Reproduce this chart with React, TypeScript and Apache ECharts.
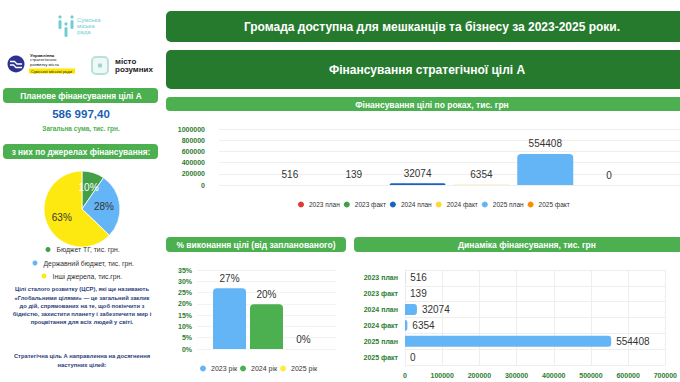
import React, { useEffect, useRef } from "react";
import * as echarts from "echarts";

// ---------- data ----------
const yearCategories = ["2023 план", "2023 факт", "2024 план", "2024 факт", "2025 план", "2025 факт"];
const yearValues = [516, 139, 32074, 6354, 554408, 0];

const percentYears = ["2023 рік", "2024 рік", "2025 рік"];
const percentValues = [26.9, 19.8, 0];

const sourceNames = ["Бюджет ТГ, тис. грн.", "Державний бюджет, тис. грн.", "Інші джерела, тис.грн."];
const sourceValues = [56351.7, 162011.3, 368634.4];

const plannedTotalText = "586 997,40";

const paragraphLines = [
  "Цілі сталого розвитку (ЦСР), які ще називають",
  "«Глобальними цілями» — це загальний заклик",
  "до дій, спрямованих на те, щоб покінчити з",
  "бідністю, захистити планету і забезпечити мир і",
  "процвітання для всіх людей у світі.",
];
const goalLines = ["Стратегічна ціль А направленна на досягнення", "наступних цілей:"];

// ---------- styles ----------
const FONT = "'Liberation Sans', Arial, Helvetica, sans-serif";
const yearColors = ["#e53935", "#43a047", "#1565c0", "#fdd835", "#64b5f6", "#fb8c00"];
const percentColors = ["#64b5f6", "#4caf50", "#ffeb3b"];
const sourceColors = ["#43a047", "#64b5f6", "#fde910"];
const DARK_GREEN = "#267a2e";
const GREEN = "#4caf50";
const AXIS_GREEN = "#2e7d32";
const GRID_LINE = "#eeeeee";

function txt(x: number, y: number, text: string, font: string, fill: string, align = "center") {
  return {
    type: "text",
    x,
    y,
    silent: true,
    style: { text, font, fill, align, verticalAlign: "middle", textAlign: align, textVerticalAlign: "middle" },
  };
}

export default function App() {
  const ref = useRef<HTMLDivElement>(null);

  useEffect(() => {
    if (!ref.current) return;
    const chart = echarts.init(ref.current, null, { renderer: "svg" });
    const sourceTotal = sourceValues.reduce((a, b) => a + b, 0);

    const graphic: any[] = [
      // top headers
      { type: "rect", shape: { x: 166, y: 11, width: 530, height: 31, r: 5 }, style: { fill: DARK_GREEN } },
      txt(432, 27, "Громада доступна для мешканців та бізнесу за 2023-2025 роки.", `bold 12px ${FONT}`, "#fff"),
      { type: "rect", shape: { x: 166, y: 50, width: 530, height: 39, r: 5 }, style: { fill: DARK_GREEN } },
      txt(427, 70, "Фінансування стратегічної цілі А", `bold 12px ${FONT}`, "#fff"),
      { type: "rect", shape: { x: 166, y: 97, width: 530, height: 14, r: 4 }, style: { fill: GREEN } },
      txt(432, 104.5, "Фінансування цілі по роках, тис. грн", `bold 8.5px ${FONT}`, "#fff"),
      { type: "rect", shape: { x: 166, y: 237, width: 180, height: 15, r: 4 }, style: { fill: GREEN } },
      txt(256, 245, "% виконання цілі (від запланованого)", `bold 8.5px ${FONT}`, "#fff"),
      { type: "rect", shape: { x: 354, y: 237, width: 340, height: 15, r: 4 }, style: { fill: GREEN } },
      txt(527, 245, "Динаміка фінансування, тис. грн", `bold 8.5px ${FONT}`, "#fff"),

      // left panel
      { type: "rect", shape: { x: 3, y: 88, width: 155, height: 15, r: 4 }, style: { fill: GREEN } },
      txt(81, 96, "Планове фінансування цілі А", `bold 8.3px ${FONT}`, "#fff"),
      txt(81, 114, plannedTotalText, `bold 11.5px ${FONT}`, "#1a5fb4"),
      txt(81, 128, "Загальна сума, тис. грн.", `bold 6.5px ${FONT}`, GREEN),
      { type: "rect", shape: { x: 3, y: 144, width: 155, height: 15, r: 4 }, style: { fill: GREEN } },
      txt(81, 152, "з них по джерелах фінансування:", `bold 8.3px ${FONT}`, "#fff"),

      // Sumy council logo
      { type: "circle", shape: { cx: 60, cy: 17, r: 1.6 }, style: { fill: "#6fcdd6" } },
      { type: "rect", shape: { x: 58.5, y: 20, width: 3, height: 9, r: 1.5 }, style: { fill: "#6fcdd6" } },
      { type: "circle", shape: { cx: 66, cy: 24, r: 1.6 }, style: { fill: "#6fcdd6" } },
      { type: "rect", shape: { x: 64.5, y: 27, width: 3, height: 10, r: 1.5 }, style: { fill: "#6fcdd6" } },
      { type: "circle", shape: { cx: 72, cy: 17, r: 1.6 }, style: { fill: "#6fcdd6" } },
      { type: "rect", shape: { x: 70.5, y: 20, width: 3, height: 9, r: 1.5 }, style: { fill: "#6fcdd6" } },
      txt(77, 20, "Сумська", `6px ${FONT}`, "#6fcdd6", "left"),
      txt(77, 26, "міська", `6px ${FONT}`, "#6fcdd6", "left"),
      txt(77, 32, "рада", `6px ${FONT}`, "#6fcdd6", "left"),

      // Upravlinnia logo
      { type: "circle", shape: { cx: 16, cy: 64, r: 8.5 }, style: { fill: "#2e3192" } },
      { type: "polyline", shape: { points: [[10, 61.5], [14.5, 61.5], [17, 64], [22, 64]] }, style: { stroke: "#fff", lineWidth: 1.3, fill: null } },
      { type: "polyline", shape: { points: [[10, 65], [13.5, 65], [16, 67.5], [22, 67.5]] }, style: { stroke: "#fff", lineWidth: 1.3, fill: null } },
      txt(30, 55, "Управління", `bold 4.3px ${FONT}`, "#222", "left"),
      txt(30, 59.5, "стратегічного", `4.3px ${FONT}`, "#222", "left"),
      txt(30, 64, "розвитку міста", `4.3px ${FONT}`, "#222", "left"),
      { type: "rect", shape: { x: 29, y: 68.5, width: 46, height: 5 }, style: { fill: "#ffe600" } },
      txt(31, 71, "Сумської міської ради", `4px ${FONT}`, "#222", "left"),

      // misto rozumnykh logo
      { type: "rect", shape: { x: 92, y: 57, width: 16, height: 17, r: 4 }, style: { fill: "#eef8f6", stroke: "#b9e0da", lineWidth: 2 } },
      { type: "rect", shape: { x: 98, y: 63.5, width: 4, height: 4, r: 1 }, style: { fill: "#9fd3cb" } },
      txt(115, 61.5, "місто", `bold 8px ${FONT}`, "#222", "left"),
      txt(115, 69.5, "розумних", `bold 8px ${FONT}`, "#222", "left"),
    ];

    const paraY = [289, 297.5, 306, 314, 322];
    paragraphLines.forEach((l, i) => graphic.push(txt(82, paraY[i], l, `bold 5.8px ${FONT}`, "#2c3e7a")));
    const goalY = [356, 364.5];
    goalLines.forEach((l, i) => graphic.push(txt(82, goalY[i], l, `bold 5.8px ${FONT}`, "#2c3e7a")));

    const plain = (v: number) => String(v);
    const axisLabelStyle = { color: AXIS_GREEN, fontSize: 7, fontWeight: "bold", fontFamily: FONT };

    const yearSeries = yearCategories.map((name, i) => ({
      type: "bar",
      name,
      xAxisIndex: 0,
      yAxisIndex: 0,
      data: [yearValues[i]],
      barWidth: 56,
      barGap: "14%",
      itemStyle: { color: yearColors[i], borderRadius: [4, 4, 0, 0] },
      label: { show: true, position: "top", distance: 5, fontSize: 10, color: "#333", fontFamily: FONT },
    }));

    const percentSeries = percentYears.map((name, i) => ({
      type: "bar",
      name,
      xAxisIndex: 1,
      yAxisIndex: 1,
      data: [percentValues[i]],
      barWidth: 33,
      barGap: "12%",
      itemStyle: { color: percentColors[i], borderRadius: [4, 4, 0, 0] },
      label: {
        show: true,
        position: "top",
        distance: 5,
        fontSize: 10,
        color: "#333",
        fontFamily: FONT,
        formatter: (p: any) => Math.round(p.value) + "%",
      },
    }));

    const legendText = { color: "#333", fontFamily: FONT };

    const option: any = {
      animation: false,
      backgroundColor: "#fff",
      textStyle: { fontFamily: FONT },
      grid: [
        { left: 219, right: 0, top: 129, bottom: 197 },
        { left: 197, right: 344, top: 270, bottom: 33 },
        { left: 405, right: 6, top: 270, bottom: 17 },
      ],
      xAxis: [
        { gridIndex: 0, type: "category", data: [""], axisLine: { show: false }, axisTick: { show: false }, axisLabel: { show: false } },
        { gridIndex: 1, type: "category", data: [""], axisLine: { show: false }, axisTick: { show: false }, axisLabel: { show: false } },
        {
          gridIndex: 2,
          type: "value",
          min: 0,
          max: 700000,
          interval: 100000,
          axisLine: { show: false },
          axisTick: { show: false },
          axisLabel: { ...axisLabelStyle, margin: 7, formatter: plain },
          splitLine: { show: true, lineStyle: { color: GRID_LINE } },
        },
      ],
      yAxis: [
        {
          gridIndex: 0,
          type: "value",
          min: 0,
          max: 1000000,
          interval: 200000,
          axisLine: { show: false },
          axisTick: { show: false },
          axisLabel: { ...axisLabelStyle, margin: 14, formatter: plain },
          splitLine: { show: true, lineStyle: { color: GRID_LINE } },
        },
        {
          gridIndex: 1,
          type: "value",
          min: 0,
          max: 35,
          interval: 5,
          axisLine: { show: false },
          axisTick: { show: false },
          axisLabel: { ...axisLabelStyle, margin: 5, formatter: "{value}%" },
          splitLine: { show: true, lineStyle: { color: "#f3f3f3" } },
        },
        {
          gridIndex: 2,
          type: "category",
          data: yearCategories,
          inverse: true,
          axisLine: { show: true, lineStyle: { color: GRID_LINE } },
          axisTick: { show: false },
          axisLabel: { ...axisLabelStyle, margin: 7 },
          splitLine: { show: true, lineStyle: { color: GRID_LINE } },
        },
      ],
      legend: [
        {
          data: yearCategories,
          left: 298,
          top: 201,
          padding: 0,
          icon: "circle",
          itemWidth: 6,
          itemHeight: 6,
          itemGap: 4,
          selectedMode: false,
          textStyle: { ...legendText, fontSize: 6.5 },
        },
        {
          data: percentYears,
          left: 200,
          top: 365,
          padding: 0,
          icon: "circle",
          itemWidth: 6,
          itemHeight: 6,
          itemGap: 3,
          selectedMode: false,
          textStyle: { ...legendText, fontSize: 7 },
        },
        ...sourceNames.map((n, i) => ({
          data: [n],
          left: [43.5, 30.5, 39.5][i],
          top: [245, 258.5, 271.5][i],
          padding: 0,
          icon: "circle",
          itemWidth: 7,
          itemHeight: 7,
          selectedMode: false,
          textStyle: { ...legendText, fontSize: 6.8 },
        })),
      ],
      series: [
        ...yearSeries,
        ...percentSeries,
        {
          type: "bar",
          name: "Динаміка",
          xAxisIndex: 2,
          yAxisIndex: 2,
          data: yearValues,
          barWidth: 11,
          itemStyle: { color: "#64b5f6", borderRadius: [0, 3, 3, 0] },
          label: { show: true, position: "right", distance: 5, fontSize: 10, color: "#333", fontFamily: FONT },
        },
        {
          type: "pie",
          center: [82, 209],
          radius: 38,
          startAngle: 90,
          clockwise: true,
          data: sourceNames.map((n, i) => ({
            name: n,
            value: sourceValues[i],
            itemStyle: { color: sourceColors[i] },
            label: { color: i === 0 ? "#fff" : "#333" },
          })),
          itemStyle: { borderColor: "#fff", borderWidth: 0.8 },
          label: {
            show: true,
            position: "inside",
            fontSize: 10,
            fontFamily: FONT,
            formatter: (p: any) => Math.round((p.value / sourceTotal) * 100) + "%",
          },
          labelLine: { show: false },
          emphasis: { disabled: true },
        },
      ],
      graphic,
    };

    chart.setOption(option);
    return () => chart.dispose();
  }, []);

  return (
    <div
      ref={ref}
      style={{ position: "fixed", left: 0, top: 0, width: 680, height: 382, background: "#fff", overflow: "hidden" }}
    />
  );
}
